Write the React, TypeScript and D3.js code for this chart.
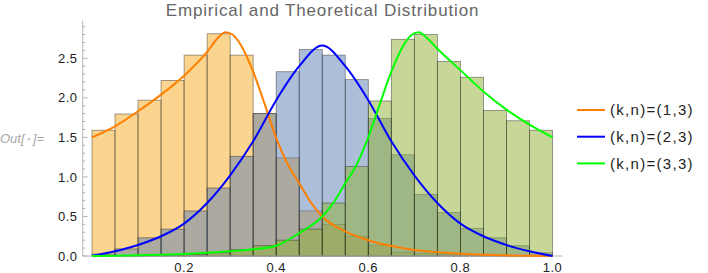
import React, { useEffect, useRef } from "react";
import * as d3 from "d3";

// histogram bins: 20 bins of width 0.05 on [0, 1]
const binEdges: number[] = [0, 0.05, 0.1, 0.15, 0.2, 0.25, 0.3, 0.35, 0.4, 0.45, 0.5,
  0.55, 0.6, 0.65, 0.7, 0.75, 0.8, 0.85, 0.9, 0.95, 1.0];

const heights13: number[] = [1.59, 1.795, 1.97, 2.22, 2.54, 2.81, 2.54, 1.8, 1.24, 0.57,
  0.4, 0.25, 0.135, 0.05, 0.03, 0.02, 0.01, 0.01, 0.005, 0.003];
const heights23: number[] = [0.025, 0.09, 0.23, 0.34, 0.57, 0.86, 1.26, 1.8, 2.33, 2.61,
  2.54, 2.23, 1.74, 1.28, 0.78, 0.55, 0.35, 0.23, 0.13, 0.04];
const heights33: number[] = [0, 0.005, 0.005, 0.01, 0.02, 0.04, 0.08, 0.13, 0.2, 0.34,
  0.67, 1.13, 1.96, 2.74, 2.8, 2.46, 2.26, 1.84, 1.71, 1.59];

// theoretical densities
const curveX13: number[] = [0, 0.05, 0.1, 0.15, 0.2, 0.25, 0.275, 0.29, 0.305, 0.325, 0.35,
  0.375, 0.4, 0.425, 0.45, 0.475, 0.5, 0.55, 0.6, 0.65, 0.7, 0.75, 0.8, 0.85, 0.9, 0.95, 1.0];
const curveY13: number[] = [1.5, 1.64, 1.83, 2.04, 2.28, 2.58, 2.77, 2.83, 2.8, 2.65, 2.33,
  1.92, 1.49, 1.16, 0.92, 0.68, 0.5, 0.31, 0.2, 0.126, 0.076, 0.047, 0.027, 0.015, 0.008, 0.003, 0];

const curveX23: number[] = [0, 0.05, 0.1, 0.15, 0.2, 0.25, 0.3, 0.35, 0.4, 0.45, 0.5,
  0.55, 0.6, 0.65, 0.7, 0.75, 0.8, 0.85, 0.9, 0.95, 1.0];
const curveY23: number[] = [0, 0.06, 0.14, 0.25, 0.41, 0.67, 1.02, 1.45, 1.97, 2.4, 2.66,
  2.4, 1.97, 1.45, 1.02, 0.67, 0.41, 0.25, 0.14, 0.06, 0];

const curveX33: number[] = [0, 0.05, 0.1, 0.15, 0.2, 0.25, 0.3, 0.35, 0.4, 0.45, 0.5, 0.525,
  0.55, 0.575, 0.6, 0.625, 0.65, 0.675, 0.695, 0.71, 0.725, 0.75, 0.8, 0.85, 0.9, 0.95, 1.0];
const curveY33: number[] = [0, 0.003, 0.008, 0.015, 0.025, 0.04, 0.06, 0.085, 0.13, 0.29, 0.5, 0.68,
  0.92, 1.16, 1.5, 1.92, 2.33, 2.65, 2.8, 2.83, 2.77, 2.62, 2.35, 2.08, 1.85, 1.66, 1.5];

const legendLabels: string[] = ["(k,n)=(1,3)", "(k,n)=(2,3)", "(k,n)=(3,3)"];
const yTicks: number[] = [0, 0.5, 1, 1.5, 2, 2.5];
const xTicks: number[] = [0.2, 0.4, 0.6, 0.8, 1.0];

const fills = ["#f7ab1f", "#5b7db1", "#8fb032"];
const lineColors = ["#ff7f00", "#0000ff", "#00ff00"];
const font = "Liberation Sans, Arial, sans-serif";

function App() {
  const ref = useRef<SVGGElement | null>(null);

  useEffect(() => {
    const g = d3.select(ref.current);
    g.selectAll("*").remove();

    const x = d3.scaleLinear().domain([0, 1]).range([92, 552.5]);
    const y = d3.scaleLinear().domain([0, 2.975]).range([256, 20.7]);

    const heights = [heights13, heights23, heights33];
    heights.forEach((hs, s) => {
      g.append("g")
        .selectAll("rect")
        .data(hs)
        .enter()
        .append("rect")
        .attr("x", (d, i) => x(binEdges[i]))
        .attr("width", (d, i) => x(binEdges[i + 1]) - x(binEdges[i]))
        .attr("y", d => y(d))
        .attr("height", d => y(0) - y(d))
        .attr("fill", fills[s])
        .attr("fill-opacity", 0.5)
        .attr("stroke", "#1a1a1a")
        .attr("stroke-opacity", 0.5)
        .attr("stroke-width", 0.8);
    });

    // axes
    const axisColor = "#b3b3b3";
    g.append("line")
      .attr("x1", 82.7).attr("x2", 82.7)
      .attr("y1", y(0)).attr("y2", y(2.975))
      .attr("stroke", axisColor).attr("stroke-width", 1);
    g.append("line")
      .attr("x1", 82.7).attr("x2", 562)
      .attr("y1", y(0)).attr("y2", y(0))
      .attr("stroke", axisColor).attr("stroke-width", 1);

    const minorY = d3.range(0, 30).map(i => i / 10);
    g.append("g")
      .selectAll("line")
      .data(minorY)
      .enter()
      .append("line")
      .attr("x1", 82.7)
      .attr("x2", (d, i) => (i % 5 === 0 ? 87.5 : 85.5))
      .attr("y1", d => y(d))
      .attr("y2", d => y(d))
      .attr("stroke", axisColor);

    g.append("g")
      .selectAll("text")
      .data(yTicks)
      .enter()
      .append("text")
      .attr("x", 77.5)
      .attr("y", d => y(d))
      .attr("dy", "0.36em")
      .attr("text-anchor", "end")
      .style("font-family", font)
      .style("font-size", "13px")
      .style("letter-spacing", "0.5px")
      .attr("fill", "#222")
      .text(d => d.toFixed(1));

    g.append("g")
      .selectAll("text")
      .data(xTicks)
      .enter()
      .append("text")
      .attr("x", d => x(d))
      .attr("y", 271.5)
      .attr("text-anchor", "middle")
      .style("font-family", font)
      .style("font-size", "13px")
      .style("letter-spacing", "0.5px")
      .attr("fill", "#222")
      .text(d => d.toFixed(1));

    // curves
    const line = d3.line<[number, number]>()
      .x(d => x(d[0]))
      .y(d => y(d[1]))
      .curve(d3.curveMonotoneX);
    const curves: [number, number][][] = [
      curveX13.map((v, i) => [v, curveY13[i]]),
      curveX23.map((v, i) => [v, curveY23[i]]),
      curveX33.map((v, i) => [v, curveY33[i]])
    ];
    curves.forEach((pts, s) => {
      g.append("path")
        .attr("d", line(pts))
        .attr("fill", "none")
        .attr("stroke", lineColors[s])
        .attr("stroke-width", 2);
    });

    // title
    g.append("text")
      .attr("x", 322.5)
      .attr("y", 16)
      .attr("text-anchor", "middle")
      .style("font-family", font)
      .style("font-size", "17px")
      .style("letter-spacing", "0.85px")
      .attr("fill", "#666")
      .text("Empirical and Theoretical Distribution");

    // legend
    const legend = g.append("g");
    legendLabels.forEach((lab, i) => {
      const ly = 110 + i * 26.7;
      legend.append("line")
        .attr("x1", 577).attr("x2", 605)
        .attr("y1", ly).attr("y2", ly)
        .attr("stroke", lineColors[i]).attr("stroke-width", 2);
      legend.append("text")
        .attr("x", 610)
        .attr("y", ly)
        .attr("dy", "0.36em")
        .style("font-family", font)
        .style("font-size", "15px")
        .style("letter-spacing", "1.3px")
        .attr("fill", "#222")
        .text(lab);
    });

    // Out[.]= label
    const out = g.append("text")
      .attr("x", 0)
      .attr("y", 142.5)
      .style("font-family", font)
      .style("font-size", "13px")
      .style("font-style", "italic")
      .attr("fill", "#a6a6a6");
    out.append("tspan").text("Out[");
    out.append("tspan").text("\u25CF").style("font-size", "7px").attr("fill", "#cfcfcf").attr("dx", 2).attr("dy", -1.5);
    out.append("tspan").text("]=").attr("dx", 2).attr("dy", 1.5);
  }, []);

  return (
    <svg width={708} height={273} style={{ position: "absolute", left: 0, top: 0, background: "#fff" }}>
      <g ref={ref}></g>
    </svg>
  );
}

export default App;
